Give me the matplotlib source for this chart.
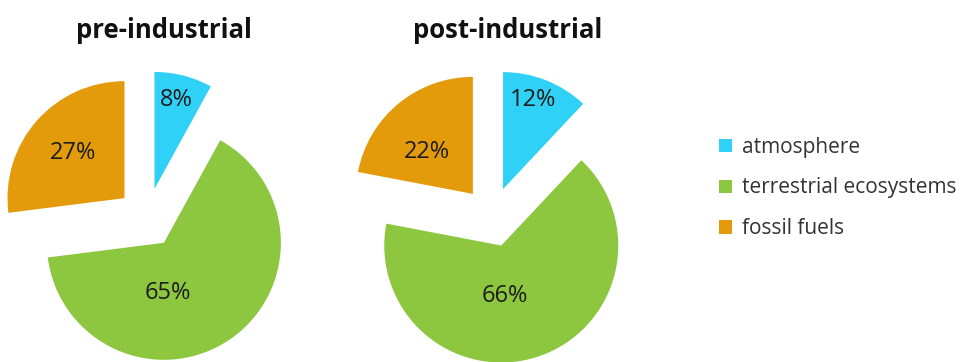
import numpy as np
import matplotlib.pyplot as plt

# carbon pools, share in percent
categories = ["atmosphere", "terrestrial ecosystems", "fossil fuels"]
titles = ["pre-industrial", "post-industrial"]
pre_values = [8, 65, 27]
post_values = [12, 66, 22]
colors = ["#2fd2f6", "#8dc63f", "#e39b0b"]

plt.rcParams['font.family'] = ['Open Sans', 'DejaVu Sans']

fig = plt.figure(figsize=(9.72, 3.62), dpi=100)
ax = fig.add_axes([0, 0, 1, 1])

R = 117
GAP = 30  # explode distance, in data units (= pixels here)
pies = [
    # values, centre, title x, label offsets from wedge tip (units of R)
    (pre_values, (147, 144), 164, [(0.19, 0.76), (0.03, -0.43), (-0.44, 0.39)]),
    (post_values, (492, 145), 508, [(0.26, 0.76), (0.03, -0.43), (-0.39, 0.36)]),
]

handles = None
for (vals, ctr, tx, offs), title in zip(pies, titles):
    wedges, _, autotexts = ax.pie(
        vals, colors=colors, startangle=90, counterclock=False,
        explode=[GAP] * len(vals), radius=R, center=ctr,
        autopct='%d%%', frame=True,
        textprops=dict(fontsize=17, color='#1c1c1c'))
    for w, t, (dx, dy) in zip(wedges, autotexts, offs):
        t.set_position((w.center[0] + dx * R, w.center[1] + dy * R))
    ax.text(tx, 331, title, ha='center', va='center',
            fontsize=18.5, fontweight='bold', color='#111111')
    if handles is None:
        handles = wedges

ax.set_xlim(0, 972)
ax.set_ylim(0, 362)
ax.set_aspect('equal')
ax.axis('off')

fig.legend(handles, categories, loc='center left',
           bbox_to_anchor=(719 / 972, 1 - 188 / 362), frameon=False,
           fontsize=15, labelspacing=0.95, handlelength=0.6,
           handleheight=0.6, handletextpad=0.5, borderpad=0,
           borderaxespad=0, labelcolor='#333333')

fig.savefig('out.png', dpi=100)
